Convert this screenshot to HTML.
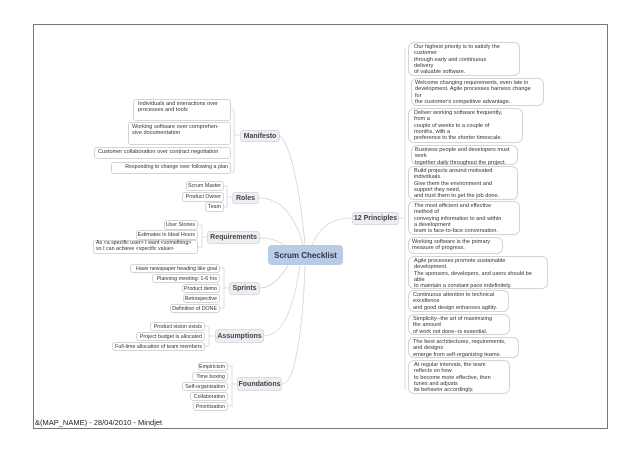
<!DOCTYPE html>
<html><head><meta charset="utf-8"><style>
body{margin:0;width:640px;height:452px;background:#fff;position:relative;overflow:hidden;font-family:"Liberation Sans",sans-serif;}
.f{position:absolute;left:33px;top:24px;width:573px;height:403px;border:1.5px solid #777;}
.n{position:absolute;box-sizing:border-box;border:1px solid #d4d4d8;border-radius:3px;font-size:5.6px;line-height:6.3px;color:#333;padding:1px 3px;white-space:nowrap;background:#fff;}
.r{text-align:right;padding:1px 2px 1px 0;font-size:5.3px;line-height:6.3px}
.m{position:absolute;box-sizing:border-box;background:#eceef3;border:1px solid #d8dbe2;border-radius:3px;font-size:7px;font-weight:bold;color:#444;display:flex;align-items:center;justify-content:center;}
.p{position:absolute;box-sizing:border-box;border:1px solid #d4d4d8;border-radius:6px;font-size:5.6px;line-height:6.3px;color:#333;padding:1px 5px;white-space:nowrap;background:#fff;}
.c{position:absolute;left:268px;top:245px;width:75px;height:20px;background:#b9cbe6;border-radius:4px;font-size:8px;font-weight:bold;color:#334;display:flex;align-items:center;justify-content:center;}
.ft{position:absolute;left:35px;top:418px;font-size:7.5px;color:#222;}
</style></head><body>
<div class="f"></div>
<svg width="640" height="452" style="position:absolute;left:0;top:0">
<g fill="none" stroke="#d4d4d8" stroke-width="0.8">
<path d="M305 245 C300 190 290 140 279 136"/>
<path d="M303 245 C295 215 280 198 259 198"/>
<path d="M290 250 C280 240 270 238 260 238"/>
<path d="M290 262 C280 280 270 288 260 288"/>
<path d="M300 265 C295 300 285 336 264 336"/>
<path d="M305 265 C303 330 295 384 282 384"/>
<path d="M312 245 C320 225 335 218 352 218"/>
<path d="M231 110 L234 110 L234 172 L231 172 M234 135 L240 135"/>
<path d="M224 186 L227 186 L227 207 L224 207 M227 197 L232 197"/>
<path d="M198 225 L202 225 L202 247 L198 247 M202 237 L207 237"/>
<path d="M220 268 L224 268 L224 308 L220 308 M224 288 L229 288"/>
<path d="M205 326 L209 326 L209 346 L205 346 M209 336 L215 336"/>
<path d="M228 366 L232 366 L232 406 L228 406 M232 384 L237 384"/>
<path d="M399 218 L405 218 M405 48 L405 390"/>
</g></svg>
<div class="n" style="left:133px;top:99px;width:98px;height:22px;padding-left:4px">Individuals and interactions over<br>processes and tools</div>
<div class="n" style="left:128px;top:122px;width:103px;height:23px">Working software over comprehen-<br>sive documentation</div>
<div class="n" style="left:94px;top:147px;width:137px;height:12px">Customer collaboration over contract negotiation</div>
<div class="n r" style="left:111px;top:162px;width:120px;height:12px">Responding to change over following a plan</div>
<div class="m" style="left:240px;top:130px;width:40px;height:12px">Manifesto</div>
<div class="n r" style="left:186px;top:181px;width:38px;height:10px">Scrum Master</div>
<div class="n r" style="left:182px;top:192px;width:42px;height:10px">Product Owner</div>
<div class="n r" style="left:205px;top:202px;width:19px;height:10px">Team</div>
<div class="m" style="left:232px;top:192px;width:27px;height:12px">Roles</div>
<div class="n r" style="left:164px;top:220px;width:34px;height:10px">User Stories</div>
<div class="n r" style="left:136px;top:230px;width:62px;height:10px">Estimates in Ideal Hours</div>
<div class="n" style="left:93px;top:240px;width:105px;height:14px;line-height:5.8px;padding:0 2px;font-size:5.3px">As &lt;a specific user&gt; I want &lt;something&gt;<br>so I can achieve &lt;specific value&gt;</div>
<div class="m" style="left:207px;top:231px;width:53px;height:13px">Requirements</div>
<div class="n r" style="left:130px;top:264px;width:90px;height:9px">Have newspaper heading like goal</div>
<div class="n r" style="left:152px;top:274px;width:68px;height:9px">Planning meeting: 1-6 hrs</div>
<div class="n r" style="left:182px;top:284px;width:38px;height:9px">Product demo</div>
<div class="n r" style="left:183px;top:294px;width:37px;height:9px">Retrospective</div>
<div class="n r" style="left:170px;top:304px;width:50px;height:9px">Definition of DONE</div>
<div class="m" style="left:229px;top:282px;width:31px;height:13px">Sprints</div>
<div class="n r" style="left:150px;top:322px;width:55px;height:9px">Product vision exists</div>
<div class="n r" style="left:136px;top:332px;width:69px;height:9px">Project budget is allocated</div>
<div class="n r" style="left:112px;top:342px;width:93px;height:9px">Full-time allocation of team members</div>
<div class="m" style="left:215px;top:329px;width:49px;height:14px">Assumptions</div>
<div class="n r" style="left:198px;top:362px;width:30px;height:9px">Empiricism</div>
<div class="n r" style="left:192px;top:372px;width:36px;height:9px">Time boxing</div>
<div class="n r" style="left:182px;top:382px;width:46px;height:9px">Self-organisation</div>
<div class="n r" style="left:190px;top:392px;width:38px;height:9px">Collaboration</div>
<div class="n r" style="left:193px;top:402px;width:35px;height:9px">Prioritisation</div>
<div class="m" style="left:237px;top:377px;width:45px;height:14px">Foundations</div>
<div class="c">Scrum Checklist</div>
<div class="m" style="left:352px;top:212px;width:47px;height:13px">12 Principles</div>
<div class="p" style="left:408px;top:42px;width:112px;height:34px">Our highest priority is to satisfy the<br>customer<br>through early and continuous<br>delivery<br>of valuable software.</div>
<div class="p" style="left:411px;top:78px;width:133px;height:28px;padding-left:3px">Welcome changing requirements, even late in<br>development. Agile processes harness change<br>for<br>the customer's competitive advantage.</div>
<div class="p" style="left:408px;top:108px;width:115px;height:35px">Deliver working software frequently,<br>from a<br>couple of weeks to a couple of<br>months, with a<br>preference to the shorter timescale.</div>
<div class="p" style="left:411px;top:145px;width:107px;height:20px;padding-left:3px">Business people and developers must<br>work<br>together daily throughout the project.</div>
<div class="p" style="left:408px;top:166px;width:110px;height:34px">Build projects around motivated<br>individuals.<br>Give them the environment and<br>support they need,<br>and trust them to get the job done.</div>
<div class="p" style="left:408px;top:201px;width:112px;height:34px">The most efficient and effective<br>method of<br>conveying information to and within<br>a development<br>team is face-to-face conversation.</div>
<div class="p" style="left:408px;top:237px;width:95px;height:17px;padding-left:3px">Working software is the primary<br>measure of progress.</div>
<div class="p" style="left:408px;top:256px;width:140px;height:33px">Agile processes promote sustainable<br>development.<br>The sponsors, developers, and users should be<br>able<br>to maintain a constant pace indefinitely.</div>
<div class="p" style="left:408px;top:290px;width:101px;height:22px;padding-left:4px">Continuous attention to technical<br>excellence<br>and good design enhances agility.</div>
<div class="p" style="left:408px;top:314px;width:102px;height:21px;padding-left:4px">Simplicity--the art of maximizing<br>the amount<br>of work not done--is essential.</div>
<div class="p" style="left:408px;top:337px;width:111px;height:21px;padding-left:4px">The best architectures, requirements,<br>and designs<br>emerge from self-organizing teams.</div>
<div class="p" style="left:408px;top:360px;width:102px;height:34px">At regular intervals, the team<br>reflects on how<br>to become more effective, then<br>tunes and adjusts<br>its behavior accordingly.</div>
<div class="ft">&amp;(MAP_NAME) - 28/04/2010 - Mindjet</div>
</body></html>
